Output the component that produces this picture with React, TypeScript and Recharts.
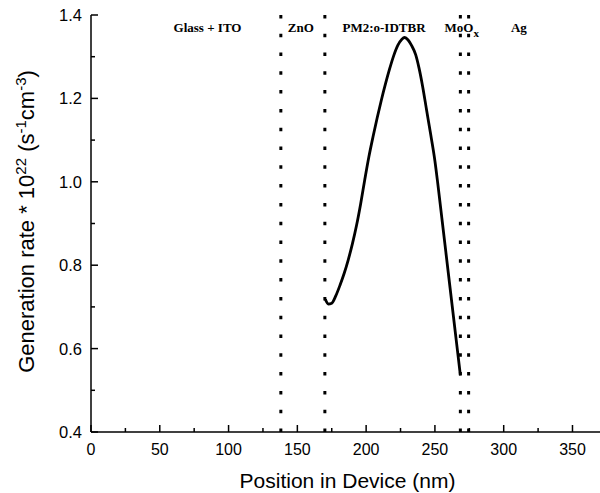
import React from "react";
import { LineChart, Line, XAxis, YAxis, ReferenceLine, ReferenceDot } from "recharts";

// generation rate profile inside the active layer (nm, 10^22 s^-1 cm^-3)
const positions = [
  170.4, 172.5, 175, 178, 181, 184, 187, 190, 193, 196, 199, 202, 205, 208, 211, 214, 217, 220, 223, 226, 228,
  230.5, 233, 236, 238.5, 241, 244, 247, 250, 252, 255, 258, 261, 264, 266.5, 268.5,
];
const rates = [
  0.718, 0.707, 0.709, 0.727, 0.752, 0.78, 0.813, 0.851, 0.895, 0.947, 1.005, 1.06, 1.108, 1.153, 1.195, 1.234, 1.27, 1.302, 1.327, 1.342, 1.346,
  1.34, 1.327, 1.305, 1.272, 1.23, 1.171, 1.112, 1.05, 0.998, 0.914, 0.83, 0.746, 0.662, 0.592, 0.536,
];

// layer boundaries
const interfaces = [138, 170, 268.5, 274.5];

// layer names
const layerNames = ["Glass + ITO", "ZnO", "PM2:o-IDTBR", "MoO", "Ag"];
const layerSubs = ["", "", "", "x", ""];
const layerCenters = [84.7, 152.5, 213, 269.5, 311];
const labelLevel = 1.359;

const xTicks = [0, 25, 50, 75, 100, 125, 150, 175, 200, 225, 250, 275, 300, 325, 350];
const yTicks = [0.4, 0.5, 0.6, 0.7, 0.8, 0.9, 1.0, 1.1, 1.2, 1.3, 1.4];

const data = positions.map((x, i) => ({ x, rate: rates[i] }));

const sans = "'Liberation Sans', Arial, sans-serif";
const serif = "'Liberation Serif', 'Times New Roman', serif";

const XTick = (props: any) => {
  const { x, y, payload } = props;
  const major = payload.value % 50 === 0;
  return (
    <g>
      <line x1={x} y1={y} x2={x} y2={y - (major ? 7 : 4)} stroke="#000" strokeWidth={1.5} />
      {major && (
        <text x={x} y={y + 23} textAnchor="middle" fontSize={16} fill="#000" fontFamily={sans}>
          {payload.value}
        </text>
      )}
    </g>
  );
};

const YTick = (props: any) => {
  const { x, y, payload } = props;
  const major = Math.round(payload.value * 10) % 2 === 0;
  return (
    <g>
      <line x1={x} y1={y} x2={x + (major ? 7 : 4)} y2={y} stroke="#000" strokeWidth={1.5} />
      {major && (
        <text x={x - 9} y={y + 6} textAnchor="end" fontSize={16.5} fill="#000" fontFamily={sans}>
          {payload.value.toFixed(1)}
        </text>
      )}
    </g>
  );
};

const YTitle = (props: any) => {
  const vb = props.viewBox;
  const cy = vb.y + vb.height / 2 - 2;
  return (
    <text x={34} y={cy} transform={`rotate(-90, 34, ${cy})`} textAnchor="middle" fontSize={22} fill="#000" fontFamily={sans}>
      Generation rate * 10<tspan dy={-8} fontSize={15}>22</tspan>
      <tspan dy={8}> (s</tspan>
      <tspan dy={-8} fontSize={15}>-1</tspan>
      <tspan dy={8}>cm</tspan>
      <tspan dy={-8} fontSize={15}>-3</tspan>
      <tspan dy={8}>)</tspan>
    </text>
  );
};

const XTitle = (props: any) => {
  const vb = props.viewBox;
  return (
    <text x={vb.x + vb.width / 2 + 2} y={488} textAnchor="middle" fontSize={21} fill="#000" fontFamily={sans}>
      Position in Device (nm)
    </text>
  );
};

export default function App() {
  return (
    <div style={{ position: "absolute", left: 0, top: 0, width: 600, height: 493, background: "#fff" }}>
      <LineChart width={600} height={493} data={data} margin={{ top: 15, right: 0, bottom: 0, left: 0 }}>
        <XAxis
          dataKey="x"
          type="number"
          domain={[0, 370]}
          ticks={xTicks}
          height={61}
          tickSize={0}
          tickMargin={0}
          tickLine={false}
          axisLine={{ stroke: "#000", strokeWidth: 1.5 }}
          tick={<XTick />}
          interval={0}
          label={{ content: (p: any) => <XTitle {...p} /> }}
        />
        <XAxis
          xAxisId="top"
          orientation="top"
          type="number"
          domain={[0, 370]}
          height={0}
          tick={false}
          tickLine={false}
          axisLine={{ stroke: "#000", strokeWidth: 1.5 }}
        />
        <YAxis
          type="number"
          domain={[0.4, 1.4]}
          ticks={yTicks}
          width={91}
          tickSize={0}
          tickMargin={0}
          tickLine={false}
          axisLine={{ stroke: "#000", strokeWidth: 1.5 }}
          tick={<YTick />}
          interval={0}
          label={{ content: (p: any) => <YTitle {...p} /> }}
        />
        {interfaces.map((pos) => (
          <ReferenceLine key={pos} x={pos} stroke="#000" strokeWidth={3} strokeDasharray="3.5 15.3" />
        ))}
        <Line
          type="monotone"
          dataKey="rate"
          stroke="#000"
          strokeWidth={2.8}
          dot={false}
          isAnimationActive={false}
        />
        {layerNames.map((name, i) => (
          <ReferenceDot
            key={name}
            x={layerCenters[i]}
            y={labelLevel}
            r={0}
            shape={(p: any) => (
              <text x={p.cx} y={p.cy} textAnchor="middle" fontSize={13} fontWeight="bold" fill="#000" fontFamily={serif}>
                {name}
                {layerSubs[i] && (
                  <tspan dy={5} fontSize={11}>
                    {layerSubs[i]}
                  </tspan>
                )}
              </text>
            )}
          />
        ))}
      </LineChart>
    </div>
  );
}
